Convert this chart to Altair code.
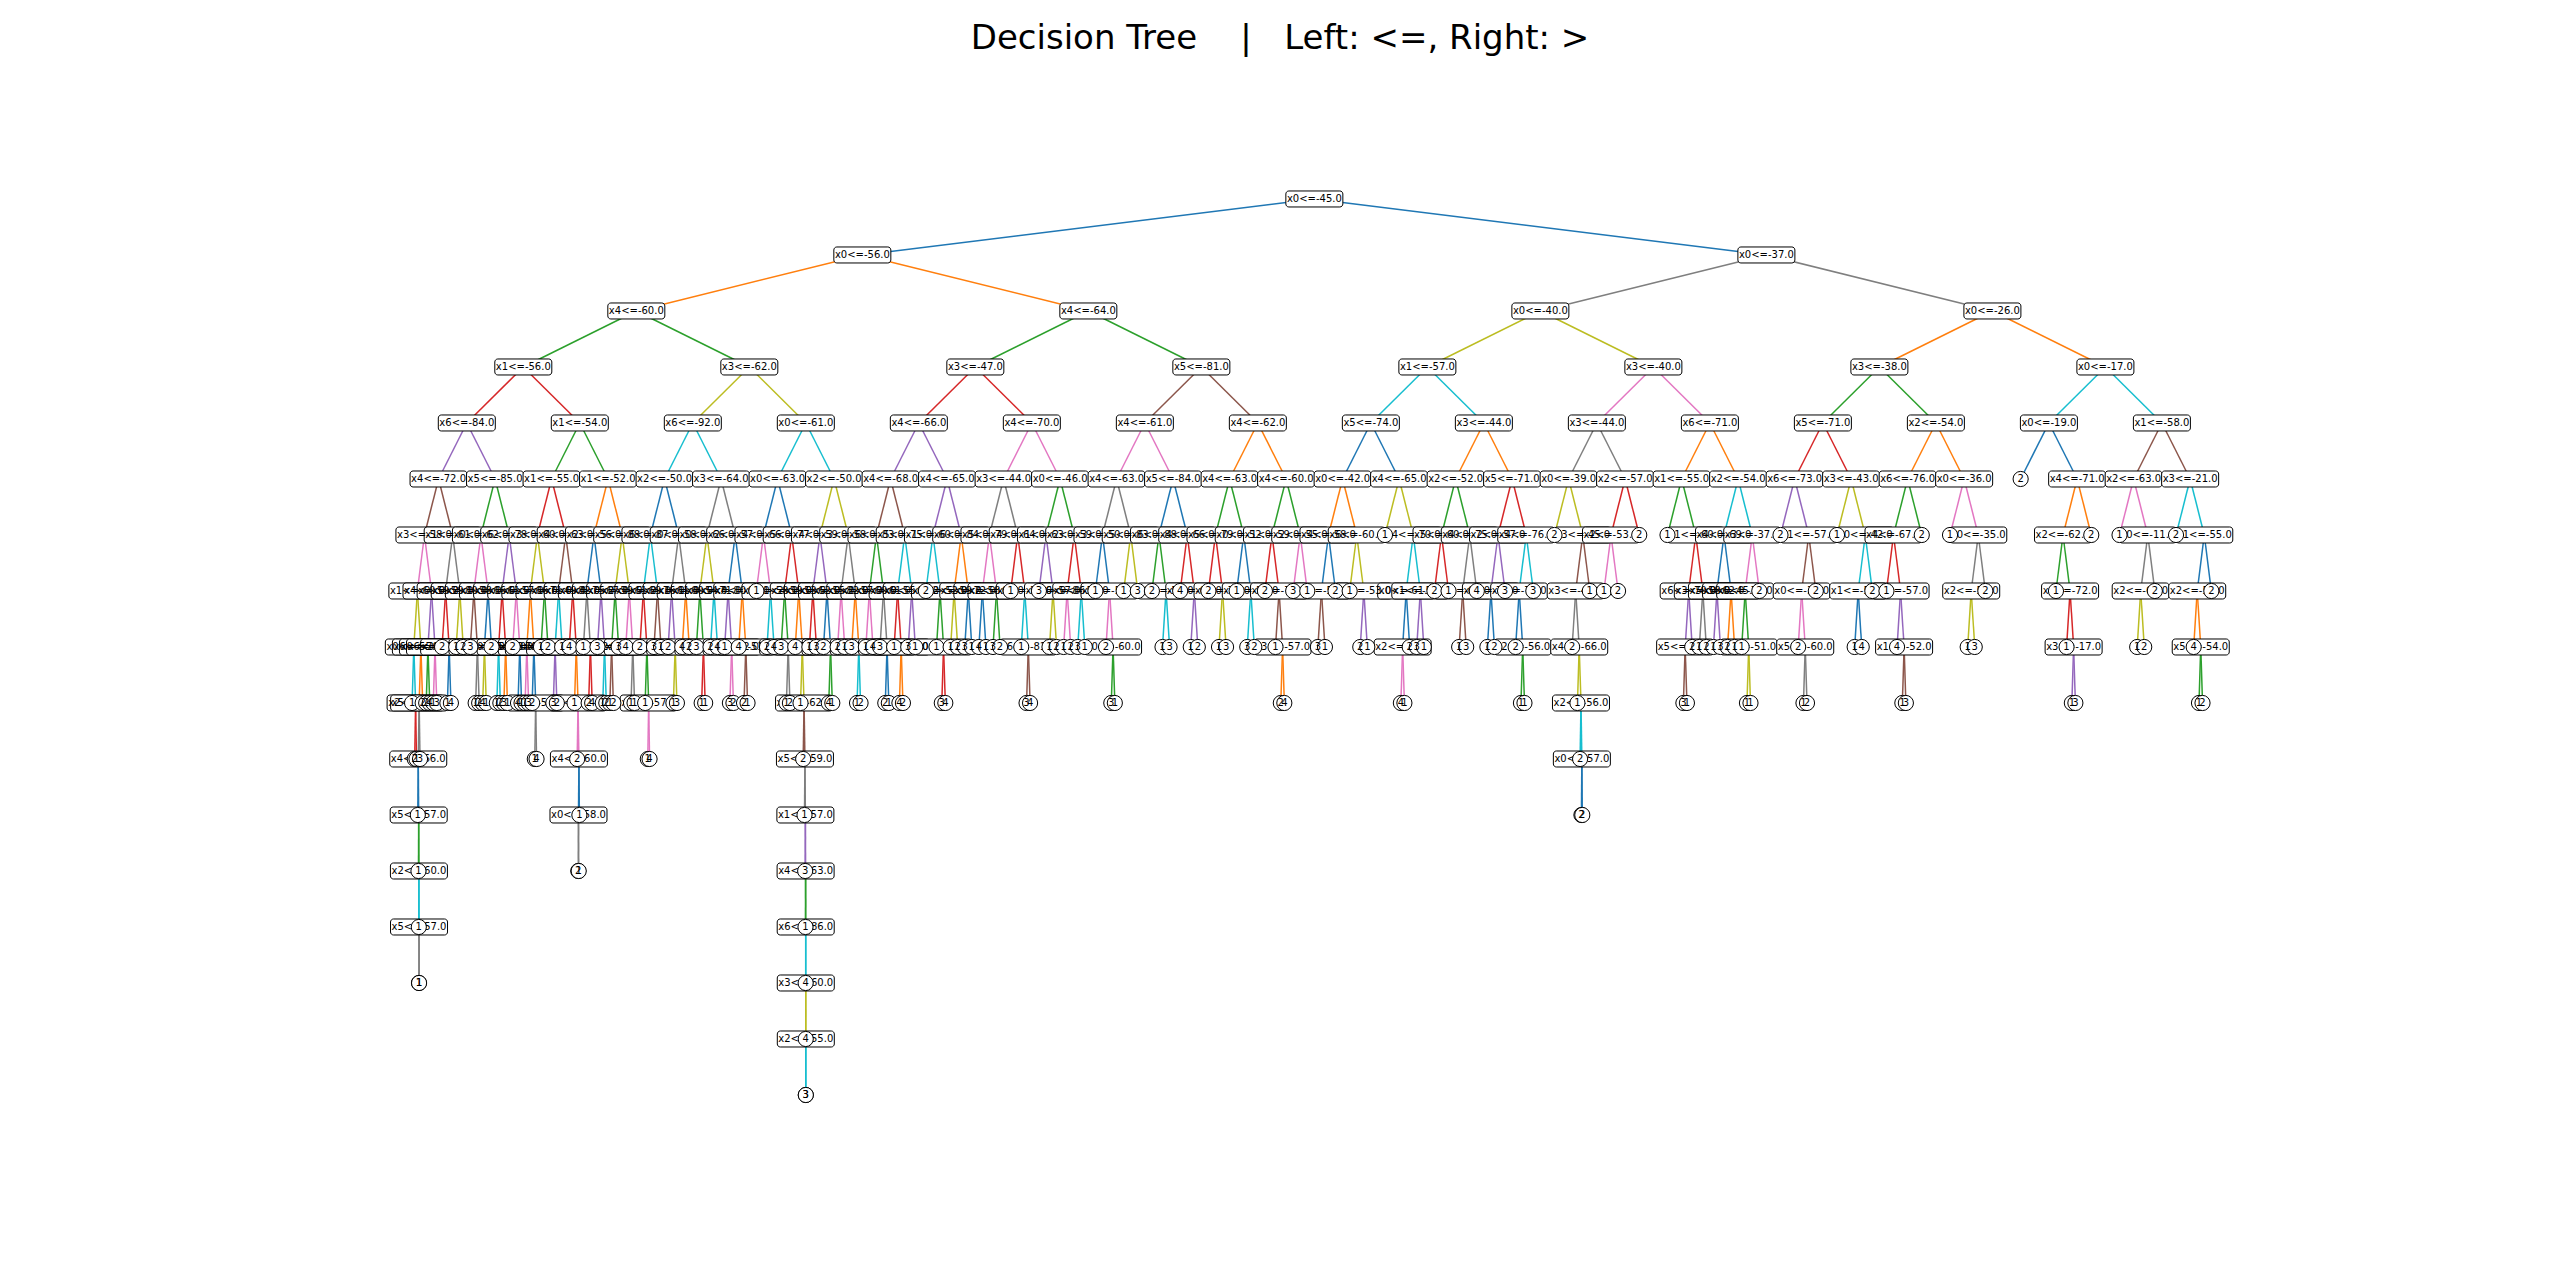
import altair as alt
import pandas as pd

TITLE = "Decision Tree\u00a0\u00a0\u00a0\u00a0|\u00a0\u00a0\u00a0Left: <=, Right: >"

# edge colour codes (tab10)
PALETTE = {
    "b": "#1f77b4", "o": "#ff7f0e", "g": "#2ca02c", "r": "#d62728", "p": "#9467bd",
    "n": "#8c564b", "k": "#e377c2", "y": "#7f7f7f", "l": "#bcbd22", "c": "#17becf",
}

# depth 0..4, breadth first. token = edge colour + feature + threshold
top_levels = [
    ["b0-45"],
    ["o0-56", "y0-37"],
    ["g4-60", "g4-64", "l0-40", "o0-26"],
    ["r1-56", "l3-62", "r3-47", "n5-81", "c1-57", "k3-40", "g3-38", "c0-17"],
    ["p6-84", "g1-54", "c6-92", "c0-61", "p4-66", "k4-70", "k4-61", "o4-62",
     "b5-74", "o3-44", "y3-44", "o6-71", "r5-71", "o2-54", "b0-19", "n1-58"],
]

# depth-5 subtrees, left to right, in preorder ("=k" is a leaf of class k)
subtrees = [
    "n4-72 k3-58 l1-60 c0-55 =1 r2-64 =2 =1 o6-70 y5-62 b4-66 =1 g5-57 =1 c2-60 =1 y5-57 =1 =1 =3 =2 "
    "p4-59 g0-66 =2 =4 k6-75 =1 =3 y1-61 r0-59 =2 b3-66 =1 =4 l6-80 =1 =2",
    "g5-85 k0-62 n2-58 =3 y4-70 =1 =2 b1-66 l3-55 =4 =1 =2 p6-78 r4-61 c0-67 =1 =2 o2-53 =3 =1 k1-57 =2 b5-70 =4 =1",
    "r1-55 l3-60 o6-66 k2-59 =1 =3 b0-64 =2 y4-58 =1 =4 g5-71 =1 =2 n4-63 c1-49 p0-57 =3 =2 =1 "
    "r6-82 =4 o3-52 =1 k2-66 =2 b4-60 y0-58 =2 =1 =1",
    "o1-52 b2-56 y6-75 =1 r3-62 =2 =4 p4-67 =3 c0-60 =1 =2 l5-88 g0-59 n1-58 =1 =2 =3 k2-61 =4 y3-49 =1 =1",
    "b2-50 c6-87 r4-69 =2 g0-65 =1 k3-57 =1 =4 n5-76 =3 =1 y0-58 p2-61 =2 l4-64 =1 =3 o1-60 =4 =2",
    "y3-64 l0-66 g1-54 =3 r6-90 =1 =1 c4-71 =2 =4 b2-57 p5-80 =1 k0-62 =3 =2 o4-60 =4 n1-51 =2 =1",
    "b0-63 k4-66 =1 c2-58 =2 =4 r5-77 g1-59 =3 y6-85 =1 =2 o2-53 =4 l3-61 =1 n0-62 =2 y5-59 =1 "
    "p1-57 =3 g4-63 =1 c6-86 =4 l3-60 =4 c2-55 =3 =3",
    "l2-50 p4-59 r1-62 =1 =3 b0-55 =2 g6-79 =4 =1 y3-58 k5-82 =2 =1 o0-57 =3 c4-65 =1 =2",
    "n4-68 g6-83 k2-60 =1 =4 y0-61 =3 b1-57 =2 =1 c5-75 r3-55 =1 o2-62 =4 =2 p0-64 =3 =1",
    "p4-65 c1-60 =2 g3-52 =1 r0-68 =3 =4 o6-84 l2-59 =1 =2 b5-72 =3 =1",
    "y3-44 k5-79 b0-58 =4 =1 g2-63 =3 =2 r4-64 =1 c1-56 =1 n6-81 =3 =4",
    "g0-46 p1-63 =3 l4-57 =1 =2 r2-59 k6-86 =1 =2 c0-51 =3 =1",
    "y4-63 b3-50 =1 k1-58 =2 g0-60 =3 =1 l5-83 =1 =3",
    "b5-84 g6-88 =2 c3-53 =1 =3 r4-66 =4 p1-61 =1 =2",
    "g4-63 r5-79 =2 l6-78 =1 =3 b0-52 =1 c2-56 =3 =2",
    "g4-60 r1-59 =2 n6-78 =1 o3-57 =2 =4 k2-55 =3 =1",
    "o0-42 b4-58 n0-50 =3 =1 =2 l6-60 =1 p2-53 =2 =1",
    "l4-65 =1 c4-70 b0-61 k2-56 =4 =1 =2 p1-59 =3 =1",
    "g2-52 r5-60 =2 =1 y4-75 n3-61 =1 =3 =4",
    "r5-71 p2-57 b6-73 =1 =2 =3 c4-76 b5-78 =2 g2-56 =1 =1 =3",
    "l0-39 =2 n3-45 y3-43 =2 l4-66 =1 c2-56 =2 b0-57 =2 =2 =1",
    "r2-57 k2-53 =1 =2 =2",
    "g1-55 =1 r1-60 p6-70 n5-61 =3 =1 =2 y3-58 =1 =2",
    "c2-54 b4-69 p5-62 =1 =3 o0-45 =2 =1 k3-37 g0-38 =1 l3-51 =1 =1 =2",
    "p6-73 =2 n1-57 k0-36 =2 y5-60 =1 =2 =2",
    "l3-43 =1 c0-42 b1-59 =1 =4 =2",
    "g6-76 r4-67 =1 p2-57 =4 n1-52 =1 =3 =2",
    "k0-36 =1 y0-35 l2-55 =1 =3 =2",
    "=2",
    "o4-71 g2-62 =1 r4-72 =1 p3-17 =1 =3 =2",
    "k2-63 =1 y0-11 l2-62 =1 =2 =2",
    "c3-21 =2 b1-55 o2-52 =4 g5-54 =1 =2 =2",
]

nodes = []  # (path, token)


def add_preorder(tokens, path):
    tok = tokens.pop(0)
    nodes.append((path, tok))
    if not tok.startswith("="):
        add_preorder(tokens, path + "L")
        add_preorder(tokens, path + "R")


for d, level in enumerate(top_levels):
    for i, tok in enumerate(level):
        path = format(i, "0{}b".format(d)).replace("0", "L").replace("1", "R") if d else ""
        nodes.append((path, tok))
for i, s in enumerate(subtrees):
    path = format(i, "05b").replace("0", "L").replace("1", "R")
    add_preorder(s.split(), path)

tok_by_path = dict(nodes)


def pos(path):
    x = 0.0
    for d, c in enumerate(path, start=1):
        x += (0.5 ** d) * (-1 if c == "L" else 1)
    return x, len(path)


rows, edges = [], []
for path, tok in nodes:
    x, y = pos(path)
    leaf = tok.startswith("=")
    label = tok[1:] if leaf else "x{}<={}.0".format(tok[1], tok[2:])
    rows.append({"x": x, "y": y, "label": label, "leaf": leaf})
    if path:
        px, py = pos(path[:-1])
        edges.append({"x": px, "y": py, "x2": x, "y2": y,
                      "color": PALETTE[tok_by_path[path[:-1]][0]]})

nd = pd.DataFrame(rows)
ed = pd.DataFrame(edges)

xs = alt.Scale(domain=[-1.445, 1.369], nice=False, zero=False)
ys = alt.Scale(domain=[-2.446, 18.625], nice=False, zero=False, reverse=True)
X = alt.X("x:Q", scale=xs, axis=None)
Y = alt.Y("y:Q", scale=ys, axis=None)

edge_layer = alt.Chart(ed).mark_rule(strokeWidth=1.5).encode(
    x=X, y=Y, x2="x2:Q", y2="y2:Q", color=alt.Color("color:N", scale=None))

inner = nd[~nd["leaf"]]
leaves = nd[nd["leaf"]]

boxes = alt.Chart(inner).mark_rect(
    width=57, height=16, cornerRadius=3, fill="white", stroke="black", strokeWidth=1
).encode(x=X, y=Y)
box_text = alt.Chart(inner).mark_text(font="DejaVu Sans", fontSize=10, color="black").encode(
    x=X, y=Y, text="label:N")
circles = alt.Chart(leaves).mark_point(
    shape="circle", size=230, filled=True, fill="white", stroke="black", strokeWidth=1, opacity=1
).encode(x=X, y=Y)
circle_text = alt.Chart(leaves).mark_text(font="DejaVu Sans", fontSize=10, color="black").encode(
    x=X, y=Y, text="label:N")

chart = alt.layer(edge_layer, boxes, box_text, circles, circle_text).properties(
    width=2544, height=1180, padding={"top": 14, "left": 0, "right": 0, "bottom": 0},
    title=alt.TitleParams(TITLE, fontSize=34, font="DejaVu Sans", fontWeight="normal",
                          anchor="middle", offset=6),
).configure_view(stroke=None)

chart.save("out.html", embed_options={"renderer": "svg", "actions": False})
